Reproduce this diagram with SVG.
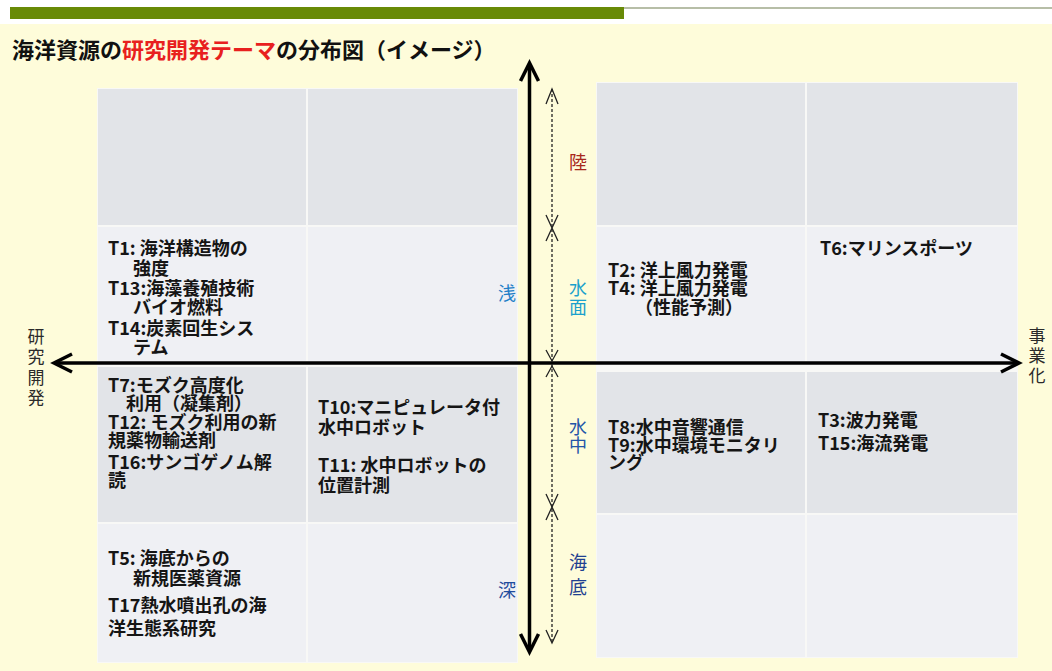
<svg xmlns="http://www.w3.org/2000/svg" width="1052" height="671" viewBox="0 0 1052 671">
<defs>
<style>
.bg{fill:#FEFCDA}
.dk{fill:#E2E4E8}
.lt{fill:#EFF0F4}
.gap{fill:#F8F8F6}
.t{font-family:"Noto Sans CJK JP","Noto Sans",sans-serif;font-size:18px;font-weight:bold;fill:#151515}
.side{font-family:"Noto Sans CJK JP",sans-serif;font-size:17px;fill:#2a2a2a;text-anchor:middle}
.lab{font-family:"Noto Sans CJK JP",sans-serif;font-size:18px;text-anchor:middle}
.axis{stroke:#000;stroke-width:3.5;fill:none}
.dot{stroke:#222;stroke-width:1.3;fill:none;stroke-dasharray:3 2}
.chev{stroke:#222;stroke-width:1.3;fill:none}
</style>
</defs>
<rect width="1052" height="671" fill="#FFFFFF"/>
<rect class="bg" x="0" y="24" width="1052" height="647"/>
<rect x="10" y="7" width="614" height="12" fill="#688A06"/>
<line x1="624" y1="8" x2="1052" y2="8" stroke="#9FA88A" stroke-width="1.5"/>
<text x="12" y="58" font-family="'Noto Sans CJK JP',sans-serif" font-size="22" font-weight="bold" fill="#111">海洋資源の<tspan fill="#E8201E">研究開発テーマ</tspan>の分布図（イメージ）</text>

<g id="grid-left">
<rect class="gap" x="97" y="88" width="421" height="575"/>
<g id="cell-L1a"><rect class="dk" x="98" y="89" width="208" height="136"/></g>
<g id="cell-L1b"><rect class="dk" x="308" y="89" width="209" height="136"/></g>
<g id="cell-L2a"><rect class="lt" x="98" y="227" width="208" height="134"/>
<text class="t" x="108" y="255">T1: 海洋構造物の</text>
<text class="t" x="133" y="275">強度</text>
<text class="t" x="108" y="295">T13:海藻養殖技術</text>
<text class="t" x="133" y="314">バイオ燃料</text>
<text class="t" x="108" y="335">T14:炭素回生シス</text>
<text class="t" x="133" y="354">テム</text>
</g>
<g id="cell-L2b"><rect class="lt" x="308" y="227" width="209" height="134"/></g>
<g id="cell-L3a"><rect class="dk" x="98" y="367" width="208" height="155"/>
<text class="t" x="108" y="392">T7:モズク高度化</text>
<text class="t" x="126" y="410">利用（凝集剤）</text>
<text class="t" x="108" y="429">T12: モズク利用の新</text>
<text class="t" x="108" y="447">規薬物輸送剤</text>
<text class="t" x="108" y="469">T16:サンゴゲノム解</text>
<text class="t" x="108" y="487">読</text>
</g>
<g id="cell-L3b"><rect class="dk" x="308" y="367" width="209" height="155"/>
<text class="t" x="318" y="414">T10:マニピュレータ付</text>
<text class="t" x="318" y="434">水中ロボット</text>
<text class="t" x="318" y="472">T11: 水中ロボットの</text>
<text class="t" x="318" y="492">位置計測</text>
</g>
<g id="cell-L4a"><rect class="lt" x="98" y="524" width="208" height="138"/>
<text class="t" x="108" y="565">T5: 海底からの</text>
<text class="t" x="133" y="585">新規医薬資源</text>
<text class="t" x="108" y="612">T17熱水噴出孔の海</text>
<text class="t" x="108" y="635">洋生態系研究</text>
</g>
<g id="cell-L4b"><rect class="lt" x="308" y="524" width="209" height="138"/></g>
</g>

<g id="grid-right">
<rect class="gap" x="596" y="82" width="422" height="576"/>
<g id="cell-R1a"><rect class="dk" x="597" y="83" width="208" height="142"/></g>
<g id="cell-R1b"><rect class="dk" x="807" y="83" width="210" height="142"/></g>
<g id="cell-R2a"><rect class="lt" x="597" y="227" width="208" height="134"/>
<text class="t" x="608" y="277">T2: 洋上風力発電</text>
<text class="t" x="608" y="295">T4: 洋上風力発電</text>
<text class="t" x="635" y="314">（性能予測）</text>
</g>
<g id="cell-R2b"><rect class="lt" x="807" y="227" width="210" height="134"/>
<text class="t" x="820" y="255">T6:マリンスポーツ</text>
</g>
<g id="cell-R3a"><rect class="dk" x="597" y="372" width="208" height="141"/>
<text class="t" x="608" y="434">T8:水中音響通信</text>
<text class="t" x="608" y="452">T9:水中環境モニタリ</text>
<text class="t" x="608" y="469">ング</text>
</g>
<g id="cell-R3b"><rect class="dk" x="807" y="372" width="210" height="141"/>
<text class="t" x="818" y="427">T3:波力発電</text>
<text class="t" x="818" y="450">T15:海流発電</text>
</g>
<g id="cell-R4a"><rect class="lt" x="597" y="515" width="208" height="142"/></g>
<g id="cell-R4b"><rect class="lt" x="807" y="515" width="210" height="142"/></g>
</g>

<g id="labels">
<text class="lab" x="507" y="300" fill="#1F80C8">浅</text>
<text class="lab" x="507" y="597" fill="#1F4C9C">深</text>
<text class="lab" x="578" y="169" fill="#A8281C">陸</text>
<text class="lab" x="578" y="295" fill="#1AA0CC">水</text>
<text class="lab" x="578" y="314" fill="#1AA0CC">面</text>
<text class="lab" x="578" y="434" fill="#2455A8">水</text>
<text class="lab" x="578" y="452" fill="#2455A8">中</text>
<text class="lab" x="578" y="569" fill="#1F4090">海</text>
<text class="lab" x="578" y="594" fill="#1F4090">底</text>
<text class="side" x="36" y="343">研</text>
<text class="side" x="36" y="363">究</text>
<text class="side" x="36" y="384">開</text>
<text class="side" x="36" y="404">発</text>
<text class="side" x="1037" y="342">事</text>
<text class="side" x="1037" y="362">業</text>
<text class="side" x="1037" y="382">化</text>
</g>

<g id="connectors">
<line class="axis" x1="529.5" y1="65" x2="529.5" y2="650"/>
<path class="axis" d="M520.5,81 L529.5,63 L538.5,81"/>
<path class="axis" d="M520.5,634 L529.5,652 L538.5,634"/>
<line class="axis" x1="55" y1="363" x2="1018" y2="363"/>
<path class="axis" d="M72,354 L54,363 L72,372"/>
<path class="axis" d="M1001,354 L1019,363 L1001,372"/>
<line class="dot" x1="552" y1="89" x2="552" y2="643"/>
<path class="chev" d="M546,104 L552,89 L558,104"/>
<path class="chev" d="M546,215 L552,228 L558,215 M546,241 L552,228 L558,241"/>
<path class="chev" d="M546,350 L552,361 L558,350 M546,377 L552,366 L558,377"/>
<path class="chev" d="M546,494 L552,507 L558,494 M546,520 L552,507 L558,520"/>
<path class="chev" d="M546,630 L552,643 L558,630"/>
</g>
</svg>
